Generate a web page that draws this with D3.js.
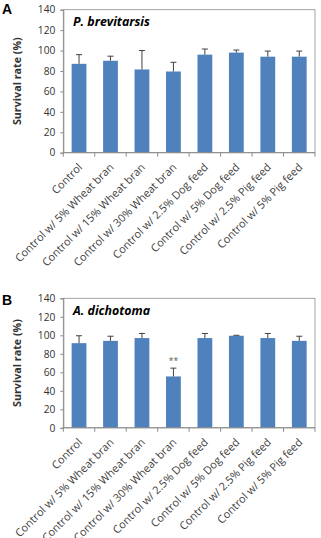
<!DOCTYPE html>
<html><head><meta charset="utf-8">
<script src="https://cdn.jsdelivr.net/npm/d3@7"></script>
<style>body{margin:0;background:#fff}svg{display:block}</style>
</head><body>
<svg id="c" width="321" height="538"></svg>
<script>
const categories = ["Control","Control w/ 5% Wheat bran","Control w/ 15% Wheat bran","Control w/ 30% Wheat bran","Control w/ 2.5% Dog feed","Control w/ 5% Dog feed","Control w/ 2.5% Pig feed","Control w/ 5% Pig feed"];
const valuesA = [87, 90, 81.5, 79.5, 96, 98, 94, 94];
const errorsA = [9, 4.5, 18.5, 9, 5.5, 2.5, 5.5, 5.5];
const valuesB = [91.5, 94, 97, 55.5, 97, 99.5, 97, 94];
const errorsB = [8, 5, 5, 9, 5, 0.5, 5, 5];
const signifB = ["","","","**","","","",""];
const yTicks = [0,20,40,60,80,100,120,140];
const panelLetters = ["A","B"];
const speciesNames = ["P. brevitarsis","A. dichotoma"];
const yTitle = "Survival rate (%)";

const svg = d3.select("#c");
const font = "'Open Sans', sans-serif";

// fit a font size so that a sample string spans a target width
function fitSize(str, target, weight, style) {
  const t = svg.append("text").attr("font-family",font).attr("font-size",10)
    .attr("font-weight",weight||"normal").attr("font-style",style||"normal").text(str);
  const w = t.node().getComputedTextLength();
  t.remove();
  return 10 * target / w;
}
const catSize = fitSize(categories[1], 134);
const titleSize = fitSize(yTitle, 88, "bold");
const nameSize = fitSize(speciesNames[0], 77, "bold", "italic");
const tickSize = fitSize("140", 17.5);

const panels = [
  {letter:panelLetters[0], name:speciesNames[0], vals:valuesA, errs:errorsA, sig:null, top:9.7, bottom:152.7, letterY:14, nameY:26},
  {letter:panelLetters[1], name:speciesNames[1], vals:valuesB, errs:errorsB, sig:signifB, top:298.3, bottom:427.8, letterY:305, nameY:315}
];
const left = 63.3, right = 315;

panels.forEach(p => {
  const g = svg.append("g");
  const x = d3.scaleBand().domain(categories).range([left, right]).paddingInner(0.53).paddingOuter(0.265);
  const y = d3.scaleLinear().domain([0,140]).range([p.bottom, p.top]);

  g.append("rect").attr("x", left).attr("y", p.top).attr("width", right-left).attr("height", p.bottom-p.top)
    .attr("fill","none").attr("stroke","#8c8c8c").attr("stroke-width",0.8);

  g.selectAll("rect.bar").data(p.vals).join("rect").attr("class","bar")
    .attr("x",(d,i)=>x(categories[i])).attr("width",x.bandwidth())
    .attr("y",d=>y(d)).attr("height",d=>y(0)-y(d)).attr("fill","#4f81bd");

  const eg = g.append("g").attr("stroke","#404040").attr("stroke-width",1);
  p.vals.forEach((v,i)=>{
    const cx = x(categories[i]) + x.bandwidth()/2;
    eg.append("line").attr("x1",cx).attr("x2",cx).attr("y1",y(v)).attr("y2",y(v+p.errs[i]));
    eg.append("line").attr("x1",cx-3).attr("x2",cx+3).attr("y1",y(v+p.errs[i])).attr("y2",y(v+p.errs[i]));
    if (p.sig && p.sig[i]) {
      g.append("text").attr("x",cx).attr("y",y(v+p.errs[i])-4).attr("text-anchor","middle")
        .attr("font-family",font).attr("font-size",8.5).attr("fill","#555").text(p.sig[i]);
    }
  });

  const ya = g.append("g").attr("transform",`translate(${left},0)`)
    .call(d3.axisLeft(y).tickValues(yTicks).tickSize(3).tickPadding(5));
  ya.select(".domain").attr("stroke","#8c8c8c");
  ya.selectAll(".tick line").attr("stroke","#8c8c8c");
  ya.selectAll("text").attr("font-family",font).attr("font-size",tickSize).attr("fill","#333");

  const xa = g.append("g").attr("transform",`translate(0,${p.bottom})`);
  xa.append("line").attr("x1",left).attr("x2",right).attr("stroke","#8c8c8c");
  const bounds = d3.range(categories.length+1).map(i => left + i*(right-left)/categories.length);
  xa.selectAll("line.tk").data(bounds).join("line").attr("class","tk")
    .attr("x1",d=>d).attr("x2",d=>d).attr("y1",0).attr("y2",4).attr("stroke","#8c8c8c");
  xa.selectAll("text").data(categories).join("text")
    .attr("transform",d=>`translate(${x(d)+x.bandwidth()/2+3.9},${15.3}) rotate(-45)`)
    .attr("text-anchor","end")
    .attr("font-family",font).attr("font-size",catSize).attr("fill","#404040").text(d=>d);

  g.append("text").attr("transform",`translate(21,${(p.top+p.bottom)/2}) rotate(-90)`)
    .attr("text-anchor","middle").attr("font-family",font).attr("font-weight","bold")
    .attr("font-size",titleSize).attr("fill","#333").text(yTitle);

  g.append("text").attr("x",2).attr("y",p.letterY).attr("font-family","Arial, 'Liberation Sans', sans-serif")
    .attr("font-weight","bold").attr("font-size",14).attr("fill","#000").text(p.letter);

  g.append("text").attr("x",73).attr("y",p.nameY).attr("font-family",font).attr("font-weight","bold")
    .attr("font-style","italic").attr("font-size",nameSize).attr("fill","#000").text(p.name);
});
</script>
</body></html>
